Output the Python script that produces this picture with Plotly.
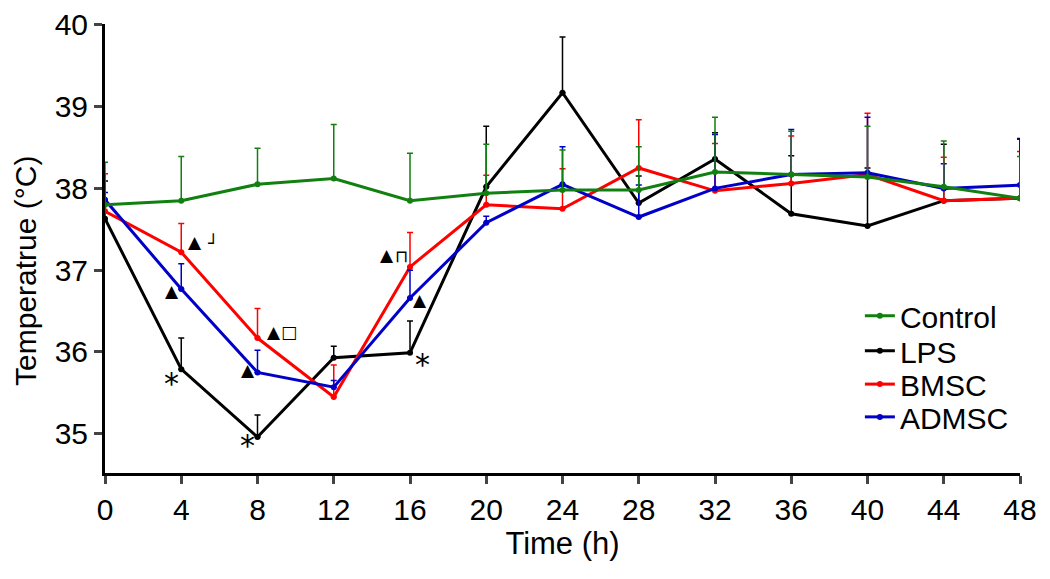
import plotly.graph_objects as go

time_h = [0, 4, 8, 12, 16, 20, 24, 28, 32, 36, 40, 44, 48]
temp_ticks = [35, 36, 37, 38, 39, 40]

control = [37.80, 37.85, 38.05, 38.12, 37.85, 37.94, 37.98, 37.98, 38.20, 38.17, 38.14, 38.02, 37.88]
control_top = [38.32, 38.39, 38.49, 38.78, 38.43, 38.54, 38.47, 38.51, 38.87, 38.70, 38.76, 38.58, 38.39]

lps = [37.63, 35.79, 34.96, 35.93, 35.99, 38.02, 39.17, 37.82, 38.36, 37.69, 37.54, 37.85, 37.88]
lps_top = [38.09, 36.17, 35.23, 36.07, 36.38, 38.76, 39.85, 38.15, 38.68, 38.40, 38.25, 38.54, 38.61]

bmsc = [37.72, 37.22, 36.17, 35.45, 37.04, 37.80, 37.75, 38.25, 37.97, 38.06, 38.17, 37.85, 37.88]
bmsc_top = [38.18, 37.57, 36.53, 35.84, 37.46, 38.16, 38.24, 38.84, 38.55, 38.64, 38.92, 38.38, 38.45]

admsc = [37.86, 36.77, 35.75, 35.57, 36.66, 37.58, 38.05, 37.65, 38.00, 38.17, 38.19, 38.00, 38.04]
admsc_top = [37.95, 37.08, 36.02, 35.65, 37.00, 37.66, 38.51, 38.04, 38.66, 38.72, 38.87, 38.30, 38.60]

# (name, values, error tops, colour, legend id, legend y-centre in paper coords)
series = [
    ("LPS", lps, lps_top, "#000000", "legend2", 0.272),
    ("BMSC", bmsc, bmsc_top, "#ff0000", "legend3", 0.198),
    ("ADMSC", admsc, admsc_top, "#0000c8", "legend4", 0.125),
    ("Control", control, control_top, "#118011", "legend", 0.350),
]

fig = go.Figure()
legend_layout = {}
for name, vals, tops, color, leg, ly in series:
    fig.add_trace(go.Scatter(
        x=time_h, y=vals, name=name, mode="lines+markers",
        line=dict(color=color, width=3),
        marker=dict(color=color, size=6),
        error_y=dict(type="data", symmetric=False,
                     array=[t - v for t, v in zip(tops, vals)],
                     arrayminus=[0] * len(vals),
                     color=color, thickness=1.5, width=3),
        legend=leg,
    ))
    legend_layout[leg] = dict(x=0.825, y=ly, xanchor="left", yanchor="middle",
                              font=dict(size=30), bgcolor="rgba(0,0,0,0)",
                              itemwidth=30)

# significance markers (text, x, y)
marks = [
    ("*", 3.5, 35.62), ("*", 7.5, 34.86), ("*", 16.65, 35.85),
    ("▲", 3.5, 36.75), ("▲", 4.7, 37.34), ("┘", 5.65, 37.33),
    ("▲", 7.5, 35.78), ("▲", 8.85, 36.25), ("□", 9.65, 36.24),
    ("▲", 14.8, 37.18), ("⊓", 15.55, 37.17), ("▲", 16.5, 36.63),
]
for txt, mx, my in marks:
    fig.add_annotation(x=mx, y=my, text=txt, showarrow=False,
                       font=dict(size=30 if txt == "*" else 17, color="black",
                                 family="DejaVu Sans"),
                       xanchor="center", yanchor="middle")

# y-axis title placed as annotation
fig.add_annotation(x=-79 / 915, xref="paper", xanchor="center", y=0.45, yref="paper",
                   yanchor="middle", text="Temperatrue (°C)", textangle=-90,
                   showarrow=False, font=dict(size=30, color="black"))

fig.update_layout(
    width=1042, height=571,
    paper_bgcolor="white", plot_bgcolor="white",
    margin=dict(l=97, r=30, t=16, b=106),
    font=dict(family="Liberation Sans, Arial, sans-serif", size=30, color="black"),
    showlegend=True,
    **legend_layout,
)
fig.update_xaxes(
    range=[0, 48], tickvals=time_h, ticks="outside", ticklen=8, tickwidth=2.5,
    showline=True, linecolor="black", linewidth=3, showgrid=False, zeroline=False,
    title=dict(text="Time (h)", font=dict(size=31), standoff=8),
    tickfont=dict(size=30), automargin=False,
)
fig.update_yaxes(
    range=[34.52, 40.01], tickvals=temp_ticks, ticks="outside",
    ticklen=8, tickwidth=2.5,
    showline=True, linecolor="black", linewidth=3, showgrid=False, zeroline=False,
    tickfont=dict(size=30), automargin=False, ticklabeloverflow="allow",
)

fig.write_html("out.html")
